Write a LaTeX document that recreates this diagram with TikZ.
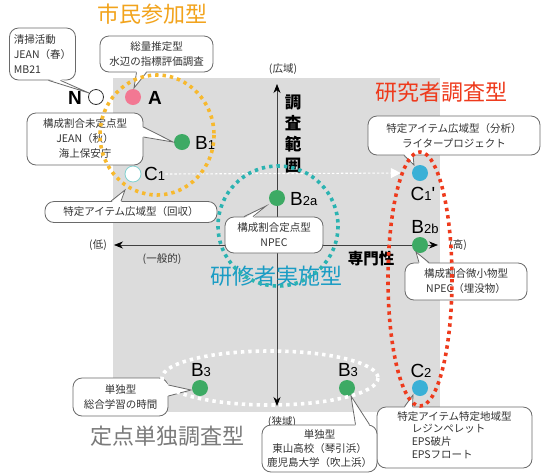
\documentclass[tikz,border=0pt]{standalone}
\usepackage{fontspec}
\newfontfamily\jp{Noto Sans CJK JP}
\newfontfamily\labf{Liberation Sans}
\usetikzlibrary{arrows.meta,calc}
\definecolor{bgGray}{HTML}{DCDCDC}
\definecolor{orangeD}{HTML}{F7B92E}
\definecolor{titleOr}{HTML}{F2A31B}
\definecolor{redD}{HTML}{EE3A1C}
\definecolor{tealD}{HTML}{2BB3B1}
\definecolor{tealT}{HTML}{1A9CC4}
\definecolor{greenP}{HTML}{3DAA64}
\definecolor{pinkP}{HTML}{F27893}
\definecolor{blueP}{HTML}{3AB0D6}
\definecolor{grayT}{HTML}{7A7A7A}
\definecolor{boxLine}{HTML}{6A6A6A}
\newcommand{\lsub}[1]{{\fontsize{13}{13}\selectfont #1}}
\tikzset{
  callout/.style={draw=boxLine, fill=white, rounded corners=9pt, line width=0.8pt,
    align=center, inner sep=2pt, font=\jp\fontsize{10.5}{15}\selectfont, text=black!80},
  ptr/.style={draw=boxLine, line width=0.8pt},
  ptdot/.style={circle, minimum size=16pt, inner sep=0pt},
  ptlab/.style={font=\labf\fontsize{19}{19}\selectfont, inner sep=0pt},
  title/.style={font=\jp\fontsize{22}{22}\selectfont, inner sep=0pt},
  axlab/.style={font=\jp\fontsize{10.5}{12}\selectfont, inner sep=0pt, text=black!80},
  dotline/.style={line width=3.6pt, dash pattern=on 3.4pt off 4pt},
}
\begin{document}
\begin{tikzpicture}[x=1pt,y=-1pt]
\useasboundingbox (0,0) rectangle (544,475);
\fill[white] (0,0) rectangle (544,475);
\fill[bgGray] (113,78) rectangle (440,412);

% axes
\coordinate (axT) at (277,84);
\coordinate (axB) at (277,406);
\coordinate (axL) at (114,245);
\coordinate (axR) at (438,245);
\draw[line width=0.7pt, black!75, {Stealth[length=9pt,width=7pt,black]}-{Stealth[length=9pt,width=7pt,black]}] (axB) -- (axT);
\draw[line width=0.7pt, black!75, {Stealth[length=9pt,width=7pt,black]}-{Stealth[length=9pt,width=7pt,black]}] (axL) -- (axR);
\node[axlab] (lHi) at (283,69) {(広域)};
\node[axlab] (lLo) at (282,422) {(狭域)};
\node[axlab] (lLow) at (98,245) {(低)};
\node[axlab] (lHigh) at (458,245) {(高)};
\node[axlab] (lGen) at (162,259) {(一般的)};
\node[font=\jp\bfseries\fontsize{15.5}{16}\selectfont, inner sep=0pt] (lSpec) at (371,259) {専門性};
\node[font=\jp\bfseries\fontsize{16.5}{21}\selectfont, align=center, inner sep=0pt] (lRange) at (293,134) {調\\査\\範\\囲};

% titles
\node[title, text=titleOr] (tCit) at (152,14) {市民参加型};
\node[title, text=redD] (tRes) at (441,92) {研究者調査型};
\node[title, text=tealT] (tTrn) at (276,276) {研修者実施型};
\node[title, text=grayT] (tFix) at (167,436) {定点単独調査型};

% points
\node[ptdot, fill=white, draw=black!80, line width=0.8pt, minimum size=15pt] (pN) at (96,97) {};
\node[ptdot, fill=pinkP] (pA) at (133,97) {};
\node[ptdot, fill=greenP] (pB1) at (182,142) {};
\node[ptdot, fill=white, draw=tealD!60, line width=0.8pt] (pC1) at (133,174) {};
\node[ptdot, fill=greenP] (pB2a) at (277,198) {};
\node[ptdot, fill=blueP] (pC1p) at (420,173) {};
\node[ptdot, fill=greenP] (pB2b) at (420,245) {};
\node[ptdot, fill=blueP] (pC2) at (420,388) {};
\node[ptdot, fill=greenP] (pB3r) at (347,388) {};
\node[ptdot, fill=greenP] (pB3l) at (200,388) {};

% point labels
\node[ptlab, font=\labf\bfseries\fontsize{19}{19}\selectfont] (nN) at (75,98) {N};
\node[ptlab, font=\labf\bfseries\fontsize{19}{19}\selectfont] (nA) at (155,98) {A};
\node[ptlab, anchor=west] (nB1) at (195,143) {B\lsub{1}};
\node[ptlab, anchor=west] (nC1) at (144,174) {C\lsub{1}};
\node[ptlab, anchor=west] (nB2a) at (290,199) {B\lsub{2a}};
\node[ptlab] (nC1p) at (423,194) {C\lsub{1}'};
\node[ptlab] (nB2b) at (425,227) {B\lsub{2b}};
\node[ptlab] (nC2) at (421,371) {C\lsub{2}};
\node[ptlab] (nB3r) at (348,370) {B\lsub{3}};
\node[ptlab] (nB3l) at (201,370) {B\lsub{3}};

% C1 -> C1' dotted arrow
\draw[white, line width=1.1pt, dash pattern=on 2.5pt off 2pt,
  -{Triangle[length=10pt,width=10pt,fill=white,sep=0pt]}, shorten >=11pt]
  (nC1.east) -- (pC1p.west);

% callouts
\node[callout, minimum width=66pt, minimum height=52pt, align=left] (cN) at (42.5,54) {清掃活動\\JEAN（春）\\MB21};
\node[callout, minimum width=113pt, minimum height=36pt] (cA) at (156.5,54) {総量推定型\\水辺の指標評価調査};
\node[callout, minimum width=116pt, minimum height=52pt] (cB1) at (85,139) {構成割合未定点型\\JEAN（秋）\\海上保安庁};
\node[callout, minimum width=172pt, minimum height=21pt] (cC1) at (131,212) {特定アイテム広域型（回収）};
\node[callout, minimum width=98pt, minimum height=36pt] (cB2a) at (274,235) {構成割合定点型\\NPEC};
\node[callout, minimum width=172pt, minimum height=39pt] (cC1p) at (454,135.5) {特定アイテム広域型（分析）\\ライタープロジェクト};
\node[callout, minimum width=122pt, minimum height=37pt] (cB2b) at (466,281.5) {構成割合微小物型\\NPEC（埋没物）};
\node[callout, minimum width=155pt, minimum height=61pt, font=\jp\fontsize{10.5}{14}\selectfont] (cC2) at (454.5,437.5) {特定アイテム特定地域型\\\hspace*{-12pt}\begin{tabular}{@{}l@{}}レジンペレット\\[-1pt]EPS破片\\[-1pt]EPSフロート\end{tabular}};
\node[callout, minimum width=115pt, minimum height=47pt, font=\jp\fontsize{10.5}{14}\selectfont] (cB3r) at (319.5,448.5) {単独型\\東山高校（琴引浜）\\鹿児島大学（吹上浜）};
\node[callout, minimum width=95pt, minimum height=38pt] (cB3l) at (120.5,397) {単独型\\総合学習の時間};

% pointers: N
\coordinate (tN) at (89,93);
\fill[white] ($(cN.south)+(6,-1.5)$) -- (tN) -- ($(cN.south)+(18,-1.5)$) -- cycle;
\draw[ptr] ($(cN.south)+(6,0)$) -- (tN) -- ($(cN.south)+(18,0)$);
% A
\coordinate (tA) at (134,88);
\fill[white] ($(cA.south)+(-20,-1.5)$) -- (tA) -- ($(cA.south)+(-10,-1.5)$) -- cycle;
\draw[ptr] ($(cA.south)+(-20,0)$) -- (tA) -- ($(cA.south)+(-10,0)$);
% B1
\coordinate (tB1) at (173,142);
\fill[white] ($(cB1.east)+(-1.5,-12)$) -- (tB1) -- ($(cB1.east)+(-1.5,-2)$) -- cycle;
\draw[ptr] ($(cB1.east)+(0,-12)$) -- (tB1) -- ($(cB1.east)+(0,-2)$);
% C1
\coordinate (tC1) at (125,190);
\fill[white] ($(cC1.north)+(-20,1.5)$) -- (tC1) -- ($(cC1.north)+(-10,1.5)$) -- cycle;
\draw[ptr] ($(cC1.north)+(-20,0)$) -- (tC1) -- ($(cC1.north)+(-10,0)$);
% B2a
\coordinate (tB2a) at (266,206);
\fill[white] ($(cB2a.north)+(-30,1.5)$) -- (tB2a) -- ($(cB2a.north)+(-21,1.5)$) -- cycle;
\draw[ptr] ($(cB2a.north)+(-30,0)$) -- (tB2a) -- ($(cB2a.north)+(-21,0)$);
% C1'
\coordinate (tC1p) at (414,165);
\fill[white] ($(cC1p.south)+(-50,-1.5)$) -- (tC1p) -- ($(cC1p.south)+(-41,-1.5)$) -- cycle;
\draw[ptr] ($(cC1p.south)+(-50,0)$) -- (tC1p) -- ($(cC1p.south)+(-41,0)$);
% B2b
\coordinate (tB2b) at (416,252);
\fill[white] ($(cB2b.north)+(-47,1.5)$) -- (tB2b) -- ($(cB2b.north)+(-37,1.5)$) -- cycle;
\draw[ptr] ($(cB2b.north)+(-47,0)$) -- (tB2b) -- ($(cB2b.north)+(-37,0)$);
% C2
\coordinate (tC2) at (413,395);
\fill[white] ($(cC2.north)+(-50,1.5)$) -- (tC2) -- ($(cC2.north)+(-42,1.5)$) -- cycle;
\draw[ptr] ($(cC2.north)+(-50,0)$) -- (tC2) -- ($(cC2.north)+(-42,0)$);
% B3 right
\coordinate (tB3r) at (351,396);
\fill[white] ($(cB3r.north)+(36,1.5)$) -- (tB3r) -- ($(cB3r.north)+(50,1.5)$) -- cycle;
\draw[ptr] ($(cB3r.north)+(36,0)$) -- (tB3r) -- ($(cB3r.north)+(50,0)$);
% B3 left
\coordinate (tB3l) at (191,390);
\fill[white] ($(cB3l.east)+(-1.5,-12)$) -- (tB3l) -- ($(cB3l.east)+(-1.5,-1)$) -- cycle;
\draw[ptr] ($(cB3l.east)+(0,-12)$) -- (tB3l) -- ($(cB3l.east)+(0,-1)$);

% dotted group outlines
\draw[dotline, orangeD] (157,135) ellipse[x radius=57, y radius=60];
\draw[dotline, tealD] (278,226) circle[radius=60];
\draw[dotline, white] (270,378) ellipse[x radius=108, y radius=27];
\draw[dotline, redD] (420,279) ellipse[x radius=32, y radius=127];
\end{tikzpicture}
\end{document}
